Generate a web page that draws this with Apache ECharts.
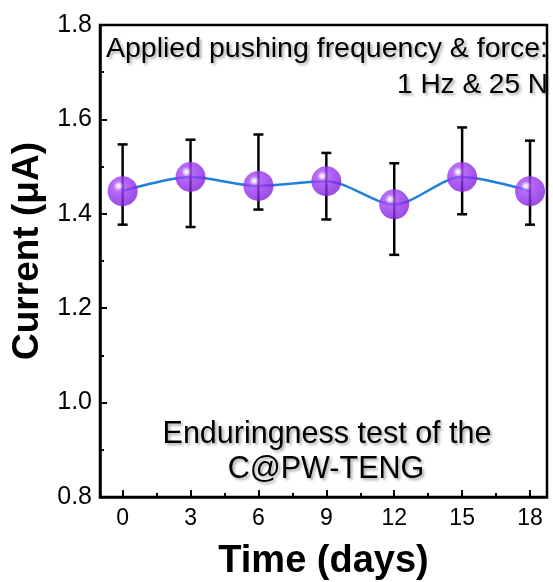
<!DOCTYPE html>
<html><head><meta charset="utf-8">
<script src="https://cdn.jsdelivr.net/npm/echarts@6/dist/echarts.min.js"></script>
<style>html,body{margin:0;padding:0;background:#fff}#c{width:553px;height:582px}</style>
</head><body><div id="c"></div>
<script>
const days = [0, 3, 6, 9, 12, 15, 18];
const current = [1.448, 1.478, 1.459, 1.469, 1.420, 1.478, 1.448];
const errHigh = [1.547, 1.557, 1.568, 1.529, 1.507, 1.583, 1.555];
const errLow = [1.377, 1.372, 1.409, 1.388, 1.313, 1.399, 1.377];
const xMajor = [0, 3, 6, 9, 12, 15, 18];
const xMinor = [1.5, 4.5, 7.5, 10.5, 13.5, 16.5];

const FONT = '"Liberation Sans", Arial, sans-serif';
const chart = echarts.init(document.getElementById('c'));
const grad = new echarts.graphic.RadialGradient(0.36, 0.33, 0.75, [
  {offset: 0, color: '#ffffff'},
  {offset: 0.08, color: '#e9d2ff'},
  {offset: 0.22, color: '#a84cf7'},
  {offset: 0.55, color: '#9631ef'},
  {offset: 1, color: '#7d1fd6'}
]);
const shadowText = {textShadowColor: 'rgba(0,0,0,0.35)', textShadowBlur: 3, textShadowOffsetX: 2, textShadowOffsetY: 2};

chart.setOption({
  animation: false,
  grid: {left: 100, right: 6, top: 25, bottom: 85, outerBoundsMode: 'none', containLabel: false, show: true, borderColor: '#000', borderWidth: 2.5, backgroundColor: 'transparent'},
  xAxis: [{
    type: 'value', min: -1, max: 18.75,
    name: 'Time (days)', nameLocation: 'middle', nameGap: 46,
    nameTextStyle: {fontFamily: FONT, fontSize: 38, fontWeight: 'bold', color: '#000'},
    axisLine: {show: true, onZero: false, lineStyle: {color: '#000', width: 2.5}},
    axisTick: {show: true, inside: true, length: 7, lineStyle: {width: 2, color: '#000'}, customValues: xMajor},
    axisLabel: {fontFamily: FONT, fontSize: 23, color: '#000', margin: 10, customValues: xMajor},
    splitLine: {show: false}
  }, {
    type: 'value', min: -1, max: 18.75, position: 'bottom',
    axisLine: {show: false, onZero: false},
    axisTick: {show: true, inside: true, length: 4, lineStyle: {width: 2, color: '#000'}, customValues: xMinor},
    axisLabel: {show: false, customValues: xMinor},
    splitLine: {show: false}
  }],
  yAxis: {
    type: 'value', min: 0.8, max: 1.8, interval: 0.2,
    name: 'Current (\u03bcA)', nameLocation: 'middle', nameGap: 52,
    nameTextStyle: {fontFamily: FONT, fontSize: 37, fontWeight: 'bold', color: '#000', padding: [0, 0, 0, 20]},
    axisLine: {show: true, onZero: false, lineStyle: {color: '#000', width: 2.5}},
    axisTick: {show: true, inside: true, length: 7, lineStyle: {width: 2, color: '#000'}},
    minorTick: {show: true, splitNumber: 2, length: 4, lineStyle: {width: 2, color: '#000'}},
    axisLabel: {fontFamily: FONT, fontSize: 25, color: '#000', margin: 8, formatter: v => v.toFixed(1)},
    splitLine: {show: false}
  },
  graphic: [
    {type: 'text', x: 548, y: 49, style: Object.assign({text: 'Applied pushing frequency & force:', fontFamily: FONT, fontSize: 28.5, fill: '#000', align: 'right', verticalAlign: 'middle'}, shadowText)},
    {type: 'text', x: 548, y: 85, style: Object.assign({text: '1 Hz & 25 N', fontFamily: FONT, fontSize: 28, fill: '#000', align: 'right', verticalAlign: 'middle'}, shadowText)},
    {type: 'text', x: 327, y: 435, style: Object.assign({text: 'Enduringness test of the', fontFamily: FONT, fontSize: 30.5, fill: '#000', align: 'center', verticalAlign: 'middle'}, shadowText)},
    {type: 'text', x: 326, y: 470, style: Object.assign({text: 'C@PW-TENG', fontFamily: FONT, fontSize: 30.5, fill: '#000', align: 'center', verticalAlign: 'middle'}, shadowText)}
  ],
  series: [
    {
      type: 'line', data: days.map((d, i) => [d, current[i]]), smooth: 0.3,
      lineStyle: {color: '#1f7fdc', width: 2.5}, symbol: 'none', z: 2
    },
    {
      type: 'custom', z: 3,
      data: days.map((d, i) => [d, errLow[i], errHigh[i]]),
      renderItem: function (params, api) {
        const lo = api.coord([api.value(0), api.value(1)]);
        const hi = api.coord([api.value(0), api.value(2)]);
        const w = 5;
        const st = {stroke: '#000', lineWidth: 2.5};
        return {type: 'group', children: [
          {type: 'line', shape: {x1: lo[0], y1: lo[1], x2: hi[0], y2: hi[1]}, style: st},
          {type: 'line', shape: {x1: lo[0] - w, y1: lo[1], x2: lo[0] + w, y2: lo[1]}, style: st},
          {type: 'line', shape: {x1: hi[0] - w, y1: hi[1], x2: hi[0] + w, y2: hi[1]}, style: st}
        ]};
      }
    },
    {
      type: 'scatter', data: days.map((d, i) => [d, current[i]]), symbol: 'circle', symbolSize: 30, z: 4,
      itemStyle: {color: grad}
    }
  ]
});
</script></body></html>
